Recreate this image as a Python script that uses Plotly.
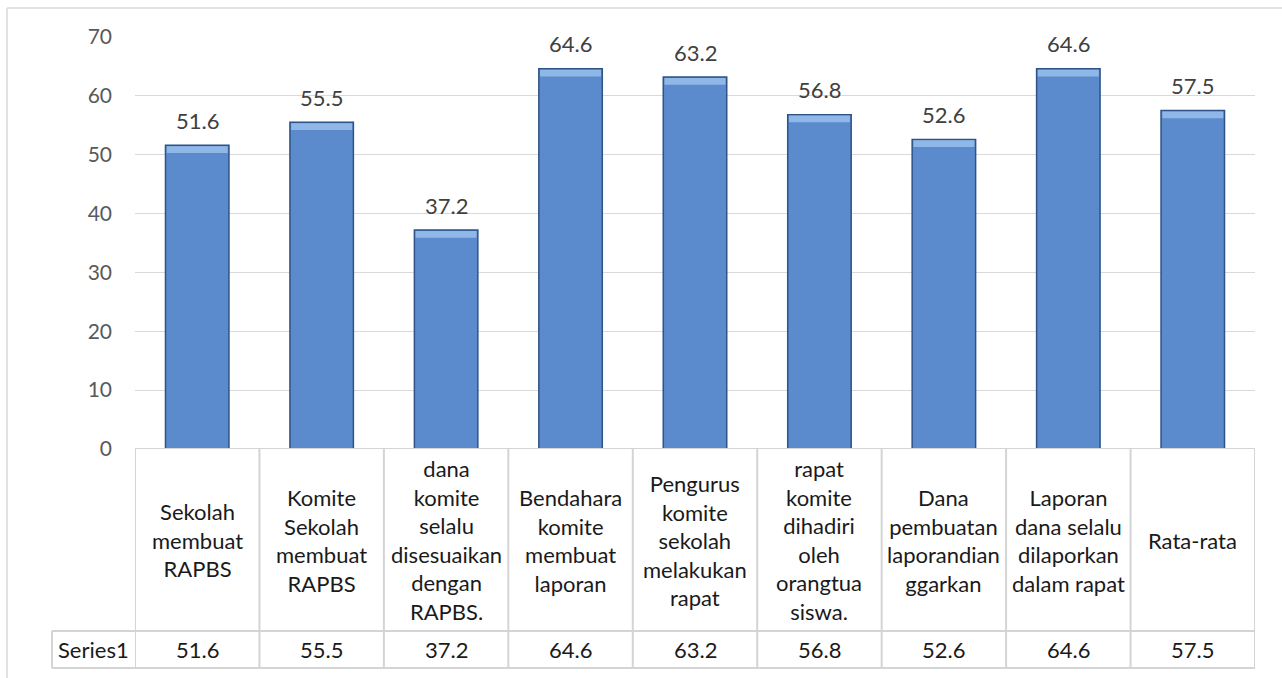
import plotly.graph_objects as go

categories = [
    "Sekolah membuat RAPBS",
    "Komite Sekolah membuat RAPBS",
    "dana komite selalu disesuaikan dengan RAPBS.",
    "Bendahara komite membuat laporan",
    "Pengurus komite sekolah melakukan rapat",
    "rapat komite dihadiri oleh orangtua siswa.",
    "Dana pembuatan laporandian ggarkan",
    "Laporan dana selalu dilaporkan dalam rapat",
    "Rata-rata",
]
category_labels = [
    "Sekolah<br>membuat<br>RAPBS",
    "Komite<br>Sekolah<br>membuat<br>RAPBS",
    "dana<br>komite<br>selalu<br>disesuaikan<br>dengan<br>RAPBS.",
    "Bendahara<br>komite<br>membuat<br>laporan",
    "Pengurus<br>komite<br>sekolah<br>melakukan<br>rapat",
    "rapat<br>komite<br>dihadiri<br>oleh<br>orangtua<br>siswa.",
    "Dana<br>pembuatan<br>laporandian<br>ggarkan",
    "Laporan<br>dana selalu<br>dilaporkan<br>dalam rapat",
    "Rata-rata",
]
series_name = "Series1"
values = [51.6, 55.5, 37.2, 64.6, 63.2, 56.8, 52.6, 64.6, 57.5]
y_ticks = [0, 10, 20, 30, 40, 50, 60, 70]

FONT = "Lato, 'Open Sans', sans-serif"
GRID = "#d9d9d9"
TABLE_LINE = "#d4d4d4"

W, H = 1282, 678
L, R, T, B = 135, 27, 37, 229
plot_h = H - T - B
plot_w = W - L - R

def py(p):  # pixel y -> paper y
    return (H - B - p) / plot_h

def px(p):  # pixel x -> paper x
    return (p - L) / plot_w

n = len(categories)
bevel = 1.3

fig = go.Figure()
fig.add_trace(go.Bar(
    x=categories, y=values, name=series_name,
    marker=dict(color="#5b8bcc", line=dict(color="#2d5387", width=1.5)),
    width=0.51, hoverinfo="x+y",
))
fig.add_trace(go.Bar(
    x=categories, y=[bevel - 0.15] * n, base=[v - bevel for v in values],
    marker=dict(color="#8fb8e8", line=dict(width=0)),
    width=0.49, hoverinfo="skip", showlegend=False,
))

shapes = []
# outer chart border (top and left visible)
shapes.append(dict(type="line", xref="paper", yref="paper",
                   x0=px(7), x1=px(1290), y0=py(8), y1=py(8),
                   line=dict(color=GRID, width=1.5)))
shapes.append(dict(type="line", xref="paper", yref="paper",
                   x0=px(7), x1=px(7), y0=py(8), y1=py(690),
                   line=dict(color=GRID, width=1.5)))

row1 = py(631)
row2 = py(668)
# table horizontal lines
shapes.append(dict(type="line", xref="x", yref="y", x0=-0.5, x1=n - 0.5, y0=0, y1=0,
                   line=dict(color=TABLE_LINE, width=2)))
shapes.append(dict(type="line", xref="paper", yref="paper", x0=px(52), x1=1, y0=row1, y1=row1,
                   line=dict(color=TABLE_LINE, width=2)))
shapes.append(dict(type="line", xref="paper", yref="paper", x0=px(52), x1=1, y0=row2, y1=row2,
                   line=dict(color=TABLE_LINE, width=2)))
shapes.append(dict(type="line", xref="paper", yref="paper", x0=px(52), x1=px(52), y0=row1, y1=row2,
                   line=dict(color=TABLE_LINE, width=2)))
for k in range(n + 1):
    shapes.append(dict(type="line", xref="x", yref="paper", x0=k - 0.5, x1=k - 0.5,
                       y0=0, y1=row2, line=dict(color=TABLE_LINE, width=2)))

annotations = []
for c, lab, v in zip(categories, category_labels, values):
    annotations.append(dict(x=c, y=v, xref="x", yref="y", text=f"{v:.1f}",
                            showarrow=False, xanchor="center", yanchor="middle", yshift=25,
                            font=dict(family=FONT, size=22, color="#404040")))
    annotations.append(dict(x=c, y=row1 / 2, xref="x", yref="paper", text=lab,
                            showarrow=False, xanchor="center", yanchor="middle", align="center",
                            font=dict(family=FONT, size=22, color="#1a1a1a")))
    annotations.append(dict(x=c, y=(row1 + row2) / 2, xref="x", yref="paper", text=f"{v:.1f}",
                            showarrow=False, xanchor="center", yanchor="middle",
                            font=dict(family=FONT, size=22, color="#1a1a1a")))
annotations.append(dict(x=px((52 + 135) / 2), y=(row1 + row2) / 2, xref="paper", yref="paper",
                        text=series_name, showarrow=False, xanchor="center", yanchor="middle",
                        font=dict(family=FONT, size=22, color="#1a1a1a")))

fig.update_layout(
    width=W, height=H,
    margin=dict(l=L, r=R, t=T, b=B, pad=0),
    paper_bgcolor="white", plot_bgcolor="white",
    barmode="overlay", showlegend=False,
    shapes=shapes, annotations=annotations,
    font=dict(family=FONT),
    xaxis=dict(showticklabels=False, showgrid=False, zeroline=False, showline=False,
               range=[-0.5, n - 0.5], fixedrange=True),
    yaxis=dict(range=[0, 70], tickvals=y_ticks, showgrid=True, gridcolor=GRID, gridwidth=1,
               zeroline=False, showline=False, ticks="", ticklabelstandoff=22,
               tickfont=dict(family=FONT, size=21, color="#595959"), fixedrange=True),
)

fig.write_html("out.html")
